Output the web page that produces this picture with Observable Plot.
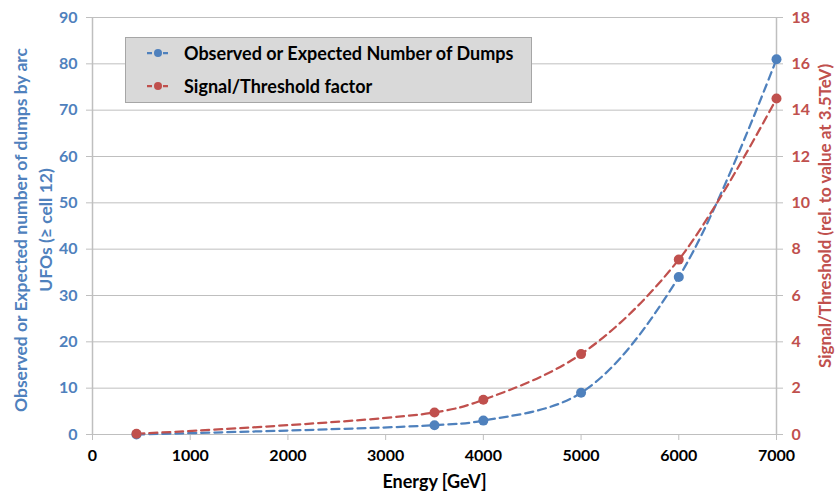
<!DOCTYPE html>
<html><head><meta charset="utf-8">
<script src="https://cdn.jsdelivr.net/npm/d3@7"></script>
<script src="https://cdn.jsdelivr.net/npm/@observablehq/plot@0.6"></script>
<style>
body{margin:0;background:#fff;font-family:Lato,"Open Sans",sans-serif;}
#wrap{position:relative;width:836px;height:497px;}
#legend{position:absolute;left:125px;top:37px;width:405px;height:64px;background:#d9d9d9;border:1px solid #a6a6a6;font:bold 18px Lato,sans-serif;color:#000;}
.item{position:absolute;left:20px;height:22px;display:flex;align-items:center;}
.item svg{margin-right:14px}
</style></head><body>
<div id="wrap"><div id="chart"></div>
<div id="legend">
<div class="item" style="top:4px"><svg width="24" height="12"><line x1="1" y1="6" x2="23" y2="6" stroke="#4F81BD" stroke-width="2.25" stroke-dasharray="5,3"/><circle cx="12" cy="6" r="4" fill="#4F81BD"/></svg><span id="l1"></span></div>
<div class="item" style="top:37px"><svg width="24" height="12"><line x1="1" y1="6" x2="23" y2="6" stroke="#C0504D" stroke-width="2.25" stroke-dasharray="5,3"/><circle cx="12" cy="6" r="4" fill="#C0504D"/></svg><span id="l2"></span></div>
</div></div>
<script>
const energy = [450, 3500, 4000, 5000, 6000, 7000];
const dumps = [0, 2, 3, 9, 34, 81];
const signalThreshold = [0.03, 0.95, 1.5, 3.47, 7.55, 14.5];
const seriesNames = ["Observed or Expected Number of Dumps", "Signal/Threshold factor"];
const xTicks = [0, 1000, 2000, 3000, 4000, 5000, 6000, 7000];
const leftTicks = [0, 10, 20, 30, 40, 50, 60, 70, 80, 90];
const rightTicks = [0, 2, 4, 6, 8, 10, 12, 14, 16, 18];
const xLabel = "Energy [GeV]";
const leftLabel = "Observed or Expected number of dumps by arc\nUFOs (≥ cell 12)";
const rightLabel = "Signal/Threshold (rel. to value at 3.5TeV)";

const BLUE = "#4F81BD", RED = "#C0504D", GRID = "#bfbfbf";
const ratio = 90 / 18;
const blueData = energy.map((e, i) => ({x: e, y: dumps[i]}));
const redData = energy.map((e, i) => ({x: e, y: signalThreshold[i] * ratio}));

document.getElementById("l1").textContent = seriesNames[0];
document.getElementById("l2").textContent = seriesNames[1];

const chart = Plot.plot({
  width: 836, height: 497,
  marginLeft: 92, marginRight: 60, marginTop: 17, marginBottom: 63,
  style: {fontFamily: "Lato, 'Open Sans', sans-serif", fontSize: "16px", fontWeight: "bold", background: "#fff"},
  x: {domain: [0, 7000]},
  y: {domain: [0, 90]},
  marks: [
    Plot.gridY(leftTicks, {stroke: GRID, strokeOpacity: 1, strokeWidth: 1}),
    Plot.ruleX([0, 7000], {stroke: GRID, strokeWidth: 1.5}),
    Plot.axisX(xTicks, {tickSize: 6, tickPadding: 9, stroke: GRID, fill: "#000", label: null, tickFormat: d => String(d)}),
    Plot.axisY(leftTicks, {anchor: "left", tickSize: 6, tickPadding: 9, stroke: GRID, fill: BLUE, label: null}),
    Plot.axisY(rightTicks.map(d => d * ratio), {anchor: "right", tickSize: 6, tickPadding: 9, stroke: GRID, fill: RED, label: null, tickFormat: d => String(d / ratio)}),
    Plot.line(blueData, {x: "x", y: "y", stroke: BLUE, strokeWidth: 2.25, strokeDasharray: "8,5", curve: "catmull-rom"}),
    Plot.line(redData, {x: "x", y: "y", stroke: RED, strokeWidth: 2.25, strokeDasharray: "8,5", curve: "catmull-rom"}),
    Plot.dot(blueData, {x: "x", y: "y", r: 5, fill: BLUE}),
    Plot.dot(redData, {x: "x", y: "y", r: 5, fill: RED}),
    Plot.text([xLabel], {frameAnchor: "bottom", dy: 53, fill: "#000", fontSize: 18}),
    Plot.text([leftLabel], {frameAnchor: "left", textAnchor: "middle", dx: -61, dy: 4, rotate: -90, fill: BLUE, fontSize: 17.5, lineHeight: 1.43}),
    Plot.text([rightLabel], {frameAnchor: "right", textAnchor: "middle", dx: 49, dy: -10, rotate: -90, fill: RED, fontSize: 17})
  ]
});
document.getElementById("chart").appendChild(chart);
</script></body></html>
